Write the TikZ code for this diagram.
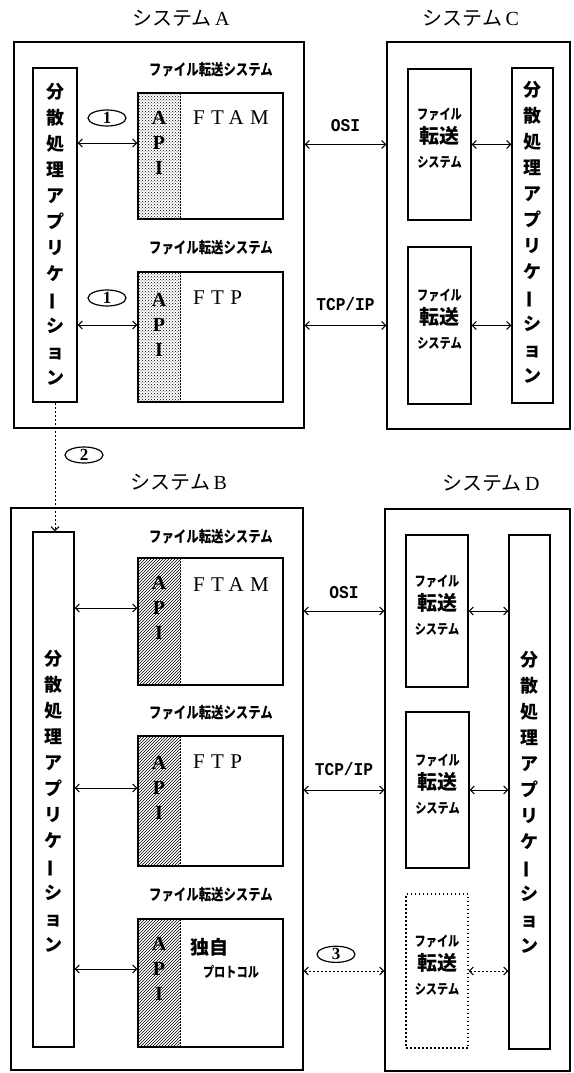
\documentclass[tikz,border=0pt]{standalone}
\usepackage{fontspec}
\setmainfont{Liberation Serif}
\newfontfamily\jp{Noto Sans CJK JP}
\newfontfamily\jpn{Noto Sans CJK JP}[FakeStretch=0.8]
\newfontfamily\mononar{Liberation Mono}[FakeStretch=0.9]
\newfontfamily\spaced{Liberation Serif}[LetterSpace=30]
\usetikzlibrary{arrows.meta,fit,patterns,shapes.geometric}
\newcommand{\apptext}{分\\散\\処\\理\\ア\\プ\\リ\\ケ\\\rotatebox[origin=c]{90}{ー}\\シ\\ョ\\ン}
\newcommand{\ftstack}{ファイル\\{\jp\bfseries\fontsize{20}{24}\selectfont 転送}\\システム}
\newcommand{\sysname}[1]{{\jp システム}\,#1}
\tikzset{
  sysbox/.style={draw, line width=1.3pt, inner sep=0pt},
  systitle/.style={font=\fontsize{20}{22}\selectfont, inner sep=1pt},
  appbar/.style={draw, line width=1.3pt, inner sep=0pt},
  apptxt/.style={align=center, inner sep=0pt, font={\jp\bfseries\fontsize{18}{26}\selectfont}},
  fsbox/.style={draw, line width=1.3pt, inner sep=0pt},
  fbox/.style={draw, line width=1.3pt, inner sep=0pt, align=center, font={\jpn\bfseries\fontsize{14}{24}\selectfont}},
  ghost/.style={fbox, dash pattern=on 1.5pt off 2.5pt},
  apiedge/.style={line width=1pt, dash pattern=on 1.5pt off 1.5pt},
  apitext/.style={align=center, inner sep=0pt, font=\bfseries\fontsize{20}{25}\selectfont},
  fslabel/.style={inner sep=0pt, font={\jpn\bfseries\fontsize{15.5}{16}\selectfont}},
  protoname/.style={anchor=west, inner sep=0pt, font={\spaced\fontsize{21}{22}\selectfont}},
  netname/.style={inner sep=2pt, solid, font={\mononar\bfseries\fontsize{18}{20}\selectfont}},
  numtag/.style={ellipse, draw, solid, line width=1.2pt, minimum width=38pt, minimum height=16pt, inner sep=0pt, font=\bfseries\fontsize{17}{17}\selectfont},
  link/.style={{Straight Barb[length=4pt,width=8pt]}-{Straight Barb[length=4pt,width=8pt]}, line width=1pt},
  dotlink/.style={link, dash pattern=on 2pt off 2pt},
}
% ファイル転送システム (API付き)
\newcommand{\ftsys}[6]{%
  \fill[pattern=#5] (138,#2) rectangle (180,#3);
  \draw[apiedge] (180,#2) -- (180,#3);
  \node[fsbox, fit={(138,#2) (283,#3)}] (#1) {};
  \node[apitext] (#1api) at (159,#4) {A\\P\\I};
  \node[fslabel] (#1lbl) at (211,#6) {ファイル転送システム};
}

\begin{document}
\begin{tikzpicture}[x=1pt, y=-1pt]
  \useasboundingbox (0,0) rectangle (573,1073);

  % ---------------- システムA ----------------
  \node[sysbox, fit={(14,42) (304,428)}] (sysA) {};
  \node[systitle] (titA) at (181,18) {\sysname{A}};
  \node[appbar, fit={(33,68) (77,402)}] (appA) {};
  \node[apptxt] (appAtxt) at (55,234) {\apptext};
  \ftsys{ftamA}{93}{219}{143}{crosshatch dots}{70}
  \ftsys{ftpA}{272}{402}{325}{crosshatch dots}{248}
  \node[protoname] (ftamAname) at (193,118) {FTAM};
  \node[protoname] (ftpAname) at (193,298) {FTP};
  \draw[link] (appA.east |- ftamAapi) -- (ftamA.west |- ftamAapi);
  \draw[link] (appA.east |- ftpAapi) -- (ftpA.west |- ftpAapi);
  \node[numtag] (n1a) at (107,118) {1};
  \node[numtag] (n1b) at (107,298) {1};

  % ---------------- システムC ----------------
  \node[sysbox, fit={(387,42) (570,429)}] (sysC) {};
  \node[systitle] (titC) at (471,18) {\sysname{C}};
  \node[appbar, fit={(512,68) (553,403)}] (appC) {};
  \node[apptxt] (appCtxt) at (532,232) {\apptext};
  \node[fbox, fit={(408,69) (471,220)}] (fileC1) {\ftstack};
  \node[fbox, fit={(408,247) (471,404)}] (fileC2) {\ftstack};
  \draw[link] (fileC1.east) -- (fileC1.east -| appC.west);
  \draw[link] (fileC2.east) -- (fileC2.east -| appC.west);
  \draw[link] (sysA.east |- fileC1) -- node[netname, above=10pt] (osiAC) {OSI} (sysC.west |- fileC1);
  \draw[link] (sysA.east |- fileC2) -- node[netname, above=12pt] (tcpAC) {TCP/IP} (sysC.west |- fileC2);

  % ---------------- システムB ----------------
  \node[sysbox, fit={(11,508) (303,1070)}] (sysB) {};
  \node[systitle] (titB) at (179,482) {\sysname{B}};
  \node[appbar, fit={(33,532) (74,1047)}] (appB) {};
  \node[apptxt] (appBtxt) at (53.5,801) {\apptext};
  \ftsys{ftamB}{558}{685}{608}{north east lines}{537}
  \ftsys{ftpB}{736}{866}{788}{north east lines}{713}
  \ftsys{ownB}{919}{1047}{969}{north east lines}{895}
  \node[protoname] (ftamBname) at (193,585) {FTAM};
  \node[protoname] (ftpBname) at (193,762) {FTP};
  \node[inner sep=0pt, font={\jp\bfseries\fontsize{19}{20}\selectfont}] (ownBname) at (209,947) {独自};
  \node[inner sep=0pt, font={\jpn\bfseries\fontsize{14}{16}\selectfont}] (ownBproto) at (231,972) {プロトコル};
  \draw[link] (appB.east |- ftamBapi) -- (ftamB.west |- ftamBapi);
  \draw[link] (appB.east |- ftpBapi) -- (ftpB.west |- ftpBapi);
  \draw[link] (appB.east |- ownBapi) -- (ownB.west |- ownBapi);

  % AからBへ
  \draw[dotlink, -{Straight Barb[length=4pt,width=8pt]}] (appA.south) -- (appA.south |- appB.north);
  \node[numtag] (n2) at (84,455) {2};

  % ---------------- システムD ----------------
  \node[sysbox, fit={(385,509) (570,1071)}] (sysD) {};
  \node[systitle] (titD) at (491,483) {\sysname{D}};
  \node[appbar, fit={(509,535) (550,1049)}] (appD) {};
  \node[apptxt] (appDtxt) at (529.5,802) {\apptext};
  \node[fbox, fit={(406,535) (468,687)}] (fileD1) {\ftstack};
  \node[fbox, fit={(406,712) (469,868)}] (fileD2) {\ftstack};
  \node[ghost, fit={(406,894) (468,1048)}] (fileD3) {\ftstack};
  \draw[link] (fileD1.east) -- (fileD1.east -| appD.west);
  \draw[link] (fileD2.east) -- (fileD2.east -| appD.west);
  \draw[dotlink] (fileD3.east) -- (fileD3.east -| appD.west);
  \draw[link] (sysB.east |- fileD1) -- node[netname, above=10pt] (osiBD) {OSI} (sysD.west |- fileD1);
  \draw[link] (sysB.east |- fileD2) -- node[netname, above=12pt] (tcpBD) {TCP/IP} (sysD.west |- fileD2);
  \draw[dotlink] (sysB.east |- fileD3) -- node[numtag, above=8pt, xshift=-8pt] (n3) {3} (sysD.west |- fileD3);
\end{tikzpicture}
\end{document}
